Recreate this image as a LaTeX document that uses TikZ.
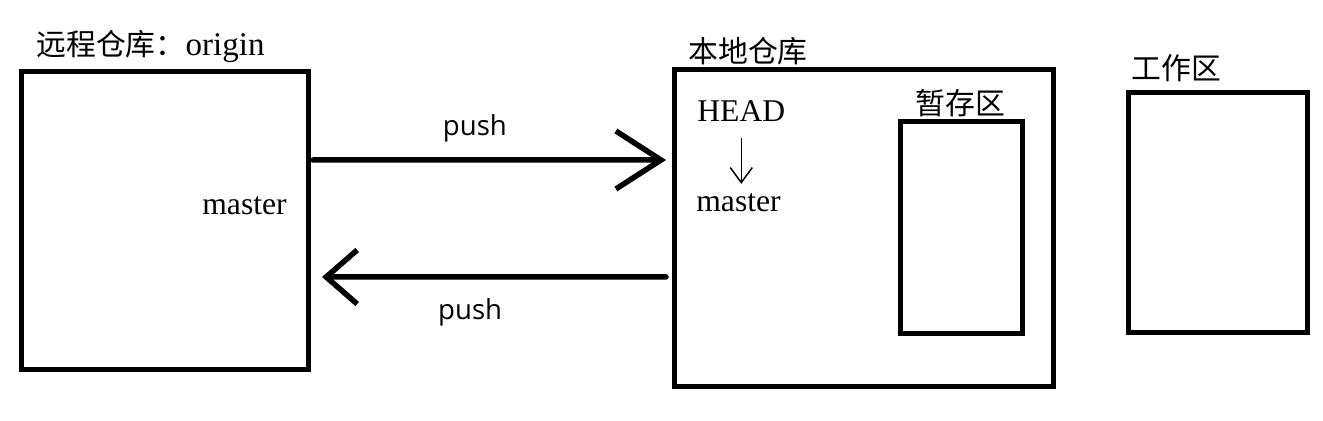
\documentclass[tikz,border=0pt]{standalone}
\usepackage{fontspec}
\setmainfont{Liberation Serif}
\newfontfamily\cjkfont{Noto Sans CJK SC}
\newfontfamily\labelfont{Open Sans}
\usetikzlibrary{arrows.meta,positioning}

\begin{document}
\begin{tikzpicture}[
        x=0.2mm, y=0.2mm,
        box/.style={rectangle, draw=black, line width=1mm, inner sep=0pt, outer sep=0pt},
        title/.style={inner sep=0pt, anchor=base west, font=\fontsize{17}{20}\selectfont\cjkfont},
        ref/.style={inner sep=0pt, anchor=base west, font=\fontsize{18}{20}\selectfont},
        pushlabel/.style={inner sep=0pt, font=\fontsize{15.7}{18}\selectfont\labelfont},
        pusharrow/.style={line width=1.1mm, line cap=round, line join=round},
        headarrow/.style={line width=0.3mm, -{Straight Barb[length=3mm, width=4.4mm]}}
    ]
        \useasboundingbox (0,0) rectangle (1323,-421);

        \node[box, minimum width=57.2mm, minimum height=59.6mm] (remote) at (165,-221) {};
        \node[box, minimum width=75.8mm, minimum height=63.4mm] (local) at (863.5,-228.5) {};
        \node[box, minimum width=24.4mm, minimum height=42.4mm] (stage) at (961,-228) {};
        \node[box, minimum width=35.8mm, minimum height=48mm] (work) at (1217.5,-213) {};

        \node[title] (remotetitle) at ([xshift=2.8mm, yshift=3.2mm]remote.north west) {远程仓库：\fontsize{18.8}{20}\selectfont\rmfamily origin};
        \node[title] (localtitle) at ([xshift=2.8mm, yshift=1.4mm]local.north west) {本地仓库};
        \node[title] (stagetitle) at ([xshift=3mm, yshift=1.4mm]stage.north west) {暂存区};
        \node[title] (worktitle) at ([xshift=0.6mm, yshift=2.6mm]work.north west) {工作区};

        \node[ref] (head) at ([xshift=4.6mm, yshift=-10.4mm]local.north west) {HEAD};
        \node[ref] (localmaster) at ([xshift=4.4mm, yshift=-28.4mm]local.north west) {master};
        \node[ref] (remotemaster) at ([xshift=36mm, yshift=-28.6mm]remote.north west) {master};

        \draw[headarrow, shorten <=3.2mm, shorten >=2mm] (head.south) -- (head.south |- localmaster.north);

        \draw[pusharrow, -{Straight Barb[length=9mm, width=11.6mm]}, shorten <=1mm, shorten >=1.6mm]
            ([yshift=12.2mm]remote.east) -- node[pushlabel, above=3mm, pos=0.456] (pushup) {push} ([yshift=13.7mm]local.west);
        \draw[pusharrow, -{Straight Barb[length=6.2mm, width=10.8mm]}, shorten <=1.6mm, shorten >=2.8mm]
            ([yshift=-9.7mm]local.west) -- node[pushlabel, below=3.8mm, pos=0.557] (pushdown) {push} ([yshift=-11.2mm]remote.east);
    \end{tikzpicture}
\end{document}
